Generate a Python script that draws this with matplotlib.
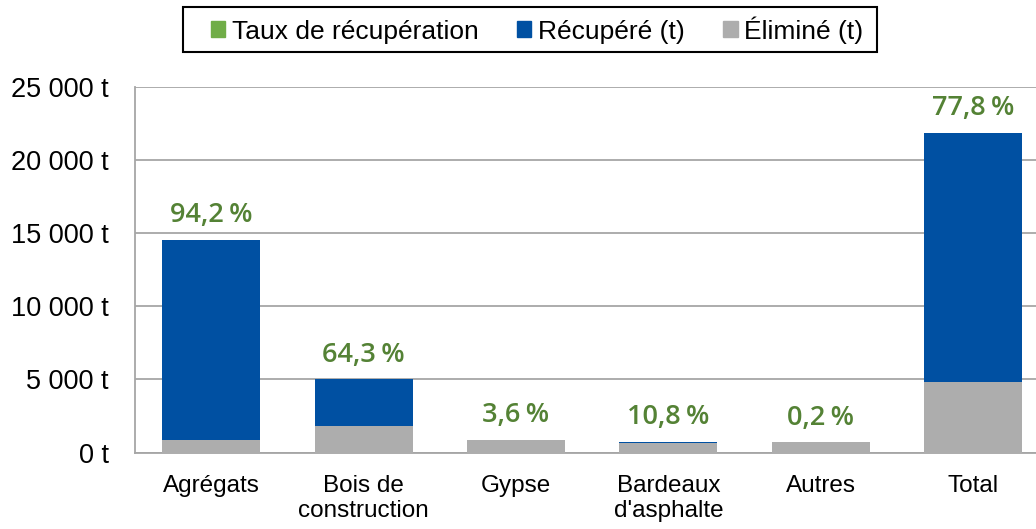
import numpy as np
import matplotlib.pyplot as plt
from matplotlib.patches import Patch, Rectangle

plt.rcParams['font.family'] = ['Liberation Sans', 'DejaVu Sans']

# Données (tonnes)
categories = ['Agrégats', 'Bois de\nconstruction', 'Gypse', 'Bardeaux\nd\'asphalte', 'Autres', 'Total']
recupere = [13708, 3215, 31, 81, 1.4, 17036]
elimine = [845, 1785, 838, 672, 710, 4850]
taux = [94.2, 64.3, 3.6, 10.8, 0.2, 77.8]
yticks = [0, 5000, 10000, 15000, 20000, 25000]

c_vert = '#70AD47'
c_vert_txt = '#548235'
c_bleu = '#0050A2'
c_gris = '#ADADAD'
c_grille = '#A6A6A6'

W, H = 1036, 529
fig = plt.figure(figsize=(W / 100, H / 100), dpi=100)
ax = fig.add_axes([0.1303, 0.1446, 0.8826, 0.6904])

x = np.arange(len(categories))
ax.bar(x, elimine, width=0.643, color=c_gris, zorder=3)
ax.bar(x, recupere, width=0.643, bottom=elimine, color=c_bleu, zorder=3)

for xi, r, e, t in zip(x, recupere, elimine, taux):
    lbl = f'{t:.1f}'.replace('.', ',') + '\u2009%'
    ax.annotate(lbl, (xi, r + e), xytext=(0, 7.5), textcoords='offset points',
                ha='center', va='bottom', fontsize=19.5, color=c_vert_txt,
                family=['Open Sans', 'DejaVu Sans'], fontweight='semibold')

ax.set_xlim(-0.5, len(categories) - 0.5)
ax.set_ylim(0, 25000)
ax.set_yticks(yticks)
ax.set_yticklabels([f'{v:,} t'.replace(',', ' ') for v in yticks], fontsize=19.5)
ax.set_xticks(x)
ax.set_xticklabels(categories, fontsize=17.5, linespacing=1.2)
ax.tick_params(axis='y', length=0, pad=19)
ax.tick_params(axis='x', length=0, pad=16)
ax.yaxis.grid(True, color=c_grille, lw=1.3, zorder=0)
for s in ['top', 'right']:
    ax.spines[s].set_visible(False)
ax.spines['left'].set_color(c_grille)
ax.spines['bottom'].set_color(c_grille)
ax.spines['left'].set_linewidth(1.3)
ax.spines['bottom'].set_linewidth(1.3)

# légende + cadre
handles = [Patch(color=c_vert), Patch(color=c_bleu), Patch(color=c_gris)]
labels = ['Taux de récupération', 'Récupéré (t)', 'Éliminé (t)']
fig.legend(handles, labels, loc='center', bbox_to_anchor=(537 / W, 1 - 30 / H),
           ncol=3, fontsize=19, frameon=False,
           handlelength=0.55, handleheight=0.55, handletextpad=0.25, columnspacing=1.45,
           borderpad=0.3, borderaxespad=0)
fig.add_artist(Rectangle((183 / W, 1 - 52 / H), (877 - 183) / W, 45 / H,
                         transform=fig.transFigure, fill=False, edgecolor='black', lw=1.5))

fig.savefig('out.png', dpi=100)
